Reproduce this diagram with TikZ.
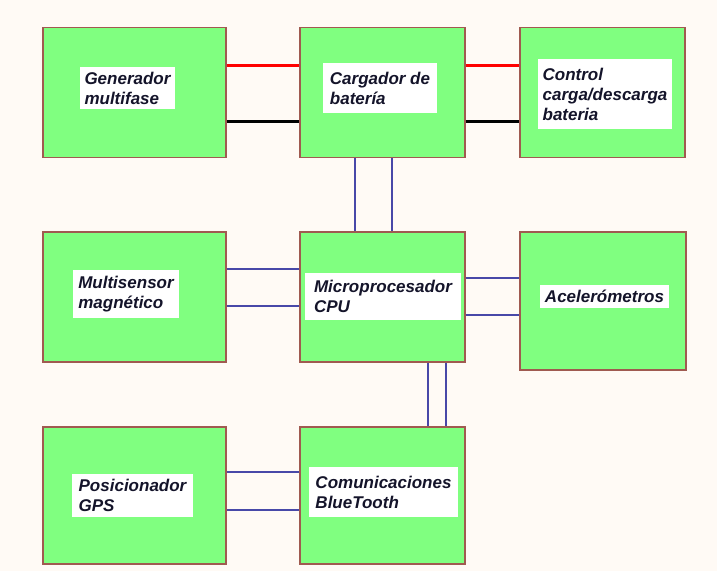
\documentclass[tikz,border=0pt]{standalone}
\usepackage{fontspec}
\setmainfont{Liberation Sans}
\usepackage{xcolor}
\definecolor{pagebg}{HTML}{FFFAF5}
\definecolor{blockfill}{HTML}{80FF80}
\definecolor{blockline}{HTML}{A05A50}
\definecolor{busline}{HTML}{4848A8}
\definecolor{textmain}{HTML}{14142A}
\usetikzlibrary{positioning, calc}

\begin{document}
\begin{tikzpicture}[
        x=1pt, y=-1pt,
        font=\fontsize{17}{20}\selectfont\bfseries\itshape,
        block/.style={
            rectangle,
            draw=blockline,
            fill=blockfill,
            line width=1.4pt,
            minimum width=#1,
            minimum height=130pt
        },
        block/.default=165pt,
        tag/.style={
            rectangle,
            fill=white,
            text=textmain,
            align=left,
            inner xsep=5pt,
            inner ysep=5pt
        },
        bus/.style={draw=busline, line width=1.4pt},
        power/.style={line width=3pt}
    ]

    % Background / page margins
    \fill[pagebg] (0,0) rectangle (717,571);

    % Blocks
    \node[block=183pt] (gen) at (134.5,92.5) {};
    \node[block] (carg) at (382.5,92.5) {};
    \node[block] (ctrl) at (602.5,92.5) {};
    \node[block=183pt] (multi) at (134.5,297) {};
    \node[block] (cpu) at (382.5,297) {};
    \node[block=166pt, minimum height=138pt] (acel) at (603,301) {};
    \node[block=183pt, minimum height=137pt] (gps) at (134.5,495.5) {};
    \node[block, minimum height=137pt] (com) at (382.5,495.5) {};

    % Labels
    \node[tag] (genlbl) at (127.5,88) {Generador\\multifase};
    \node[tag, minimum width=114pt, minimum height=50pt] (carglbl) at (380,88) {Cargador de\\batería};
    \node[tag, minimum width=132pt, minimum height=70pt] (ctrllbl) at (605,94) {Control\\carga/descarga\\bateria};
    \node[tag, minimum height=48pt] (multilbl) at (126,294) {Multisensor\\magnético};
    \node[tag, minimum width=156pt, minimum height=47pt] (cpulbl) at (383,296.5) {Microprocesador\\CPU};
    \node[tag] (acellbl) at (604.5,296.5) {Acelerómetros};
    \node[tag, minimum width=121pt] (gpslbl) at (132.5,495.5) {Posicionador\\GPS};
    \node[tag, minimum width=149pt, minimum height=50pt] (comlbl) at (383.5,492) {Comunicaciones\\BlueTooth};

    % Power lines
    \draw[power, red] ([yshift=27.5pt]gen.east) -- ([yshift=27.5pt]carg.west);
    \draw[power, black] ([yshift=-28.5pt]gen.east) -- ([yshift=-28.5pt]carg.west);
    \draw[power, red] ([yshift=27.5pt]carg.east) -- ([yshift=27.5pt]ctrl.west);
    \draw[power, black] ([yshift=-28.5pt]carg.east) -- ([yshift=-28.5pt]ctrl.west);

    % Data buses
    \draw[bus] ([xshift=-27.5pt]carg.south) -- ([xshift=-27.5pt]cpu.north);
    \draw[bus] ([xshift=9.5pt]carg.south) -- ([xshift=9.5pt]cpu.north);
    \draw[bus] ([yshift=28pt]multi.east) -- ([yshift=28pt]cpu.west);
    \draw[bus] ([yshift=-9pt]multi.east) -- ([yshift=-9pt]cpu.west);
    \coordinate (acelA) at ([yshift=19pt]cpu.east);
    \coordinate (acelB) at ([yshift=-18pt]cpu.east);
    \draw[bus] (acelA) -- (acelA -| acel.west);
    \draw[bus] (acelB) -- (acelB -| acel.west);
    \draw[bus] ([xshift=45.5pt]cpu.south) -- ([xshift=45.5pt]com.north);
    \draw[bus] ([xshift=63.5pt]cpu.south) -- ([xshift=63.5pt]com.north);
    \draw[bus] ([yshift=23.5pt]gps.east) -- ([yshift=23.5pt]com.west);
    \draw[bus] ([yshift=-14.5pt]gps.east) -- ([yshift=-14.5pt]com.west);

\end{tikzpicture}
\end{document}
